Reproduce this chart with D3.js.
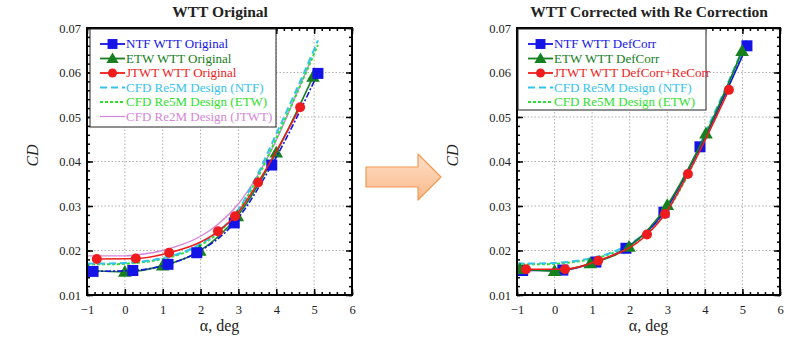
<!DOCTYPE html>
<html><head><meta charset="utf-8">
<script src="https://cdn.jsdelivr.net/npm/d3@7"></script>
<style>body{margin:0;background:#fff}svg{display:block}</style>
</head><body><svg id="c" width="791" height="338"></svg>
<script>
// ---------- data ----------
const xTicks = [-1, 0, 1, 2, 3, 4, 5, 6];
const yTicks = [0.01, 0.02, 0.03, 0.04, 0.05, 0.06, 0.07];

// Left panel: WTT Original
const ntfOrigAlpha = [-0.84, 0.21, 1.14, 1.9, 2.89, 3.88, 5.1];
const ntfOrigCD    = [0.0153, 0.0155, 0.0169, 0.0195, 0.0262, 0.0392, 0.0598];
const etwOrigAlpha = [-0.97, 0.0, 1.0, 1.98, 2.97, 4.0, 4.97];
const etwOrigCD    = [0.0155, 0.0152, 0.0166, 0.0199, 0.0277, 0.0420, 0.0590];
const jtwtOrigAlpha = [-0.74, 0.29, 1.17, 2.46, 2.91, 3.52, 4.63];
const jtwtOrigCD    = [0.0181, 0.0182, 0.0195, 0.0243, 0.0277, 0.0353, 0.0522];

// CFD design curves
const cfdAlpha   = [-1, -0.5, 0, 0.5, 1, 1.5, 2, 2.5, 3, 3.5, 4, 4.5, 5, 5.1];
const cfdNtf5M   = [0.0171, 0.0171, 0.0172, 0.0176, 0.0183, 0.0195, 0.0215, 0.0245, 0.0292, 0.0370, 0.0462, 0.0555, 0.0652, 0.0672];
const cfdEtw5M   = [0.0169, 0.0169, 0.0170, 0.0174, 0.0181, 0.0193, 0.0212, 0.0242, 0.0290, 0.0362, 0.0452, 0.0545, 0.0642, 0.0662];
const cfdAlpha2M = [-1, -0.5, 0, 0.5, 1, 1.5, 2, 2.5, 3, 3.5, 4, 4.5, 4.9];
const cfdJtwt2M  = [0.0188, 0.0188, 0.0188, 0.0192, 0.0200, 0.0213, 0.0232, 0.0262, 0.0305, 0.0368, 0.0448, 0.0545, 0.0625];

// Right panel: WTT Corrected with Re Correction
const ntfCorrAlpha = [-0.85, 0.22, 1.1, 1.9, 2.91, 3.87, 5.12];
const ntfCorrCD    = [0.0155, 0.0156, 0.0174, 0.0205, 0.0286, 0.0433, 0.0660];
const etwCorrAlpha = [-0.92, 0.0, 0.95, 1.98, 3.0, 4.03, 4.99];
const etwCorrCD    = [0.0158, 0.0154, 0.0171, 0.0208, 0.0302, 0.0463, 0.0648];
const jtwtCorrAlpha = [-0.76, 0.28, 1.16, 2.46, 2.94, 3.55, 4.64];
const jtwtCorrCD    = [0.0158, 0.0158, 0.0177, 0.0236, 0.0282, 0.0372, 0.0561];

const titles = ["WTT Original", "WTT Corrected with Re Correction"];
const leftLegend = ["NTF WTT Original", "ETW WTT Original", "JTWT WTT Original",
  "CFD Re5M Design (NTF)", "CFD Re5M Design (ETW)", "CFD Re2M Design (JTWT)"];
const rightLegend = ["NTF WTT DefCorr", "ETW WTT DefCorr", "JTWT WTT DefCorr+ReCorr",
  "CFD Re5M Design (NTF)", "CFD Re5M Design (ETW)"];

// ---------- styles ----------
const C = {blue:"#1414e6", green:"#16801e", red:"#ee1c1c", cyan:"#34c4ea", lgreen:"#2ee02e", pink:"#d487d8"};
const FONT = "'Liberation Serif', 'Times New Roman', serif";
const svg = d3.select("#c");

function zip(a, b){ return a.map((v,i)=>[v, b[i]]); }

function panel(cfg){
  const {x0, x1, y0, y1, id} = cfg;
  const x = d3.scaleLinear().domain([-1, 6]).range([x0, x1]);
  const y = d3.scaleLinear().domain([0.01, 0.07]).range([y1, y0]);
  const g = svg.append("g");

  g.append("clipPath").attr("id", id).append("rect")
    .attr("x", x0).attr("y", y0).attr("width", x1-x0).attr("height", y1-y0);

  // grid
  g.append("g").selectAll("line").data(xTicks.slice(1,-1)).join("line")
    .attr("x1", d=>x(d)).attr("x2", d=>x(d)).attr("y1", y0).attr("y2", y1)
    .attr("stroke", "#9a9a9a").attr("stroke-width", 0.8).attr("stroke-dasharray", "1.5,2");
  g.append("g").selectAll("line").data(yTicks.slice(1,-1)).join("line")
    .attr("y1", d=>y(d)).attr("y2", d=>y(d)).attr("x1", x0).attr("x2", x1)
    .attr("stroke", "#9a9a9a").attr("stroke-width", 0.8).attr("stroke-dasharray", "1.5,2");

  // axes (ticks inside)
  const ax = d3.axisBottom(x).tickValues(xTicks).tickFormat(d3.format("d")).tickSize(-6).tickPadding(10);
  const axMinor = d3.axisBottom(x).tickValues(d3.range(-1, 6.001, 0.2)).tickFormat("").tickSize(-3);
  const ay = d3.axisLeft(y).tickValues(yTicks).tickFormat(d3.format(".2f")).tickSize(-6).tickPadding(6);
  const ayMinor = d3.axisLeft(y).tickValues(d3.range(0.01, 0.0701, 0.002)).tickFormat("").tickSize(-3);
  function style(sel){
    sel.select(".domain").remove();
    sel.selectAll("line").attr("stroke", "#000").attr("stroke-width", 1.5);
    sel.selectAll("text").attr("font-family", FONT).attr("font-size", 12.5).attr("fill", "#222");
  }
  g.append("g").attr("transform", `translate(0,${y1})`).call(ax).call(style);
  g.append("g").attr("transform", `translate(0,${y1})`).call(axMinor).call(style);
  g.append("g").attr("transform", `translate(0,${y0})`).call(d3.axisTop(x).tickValues(xTicks).tickFormat("").tickSize(-6)).call(style);
  g.append("g").attr("transform", `translate(0,${y0})`).call(d3.axisTop(x).tickValues(d3.range(-1, 6.001, 0.2)).tickFormat("").tickSize(-3)).call(style);
  g.append("g").attr("transform", `translate(${x0},0)`).call(ay).call(style);
  g.append("g").attr("transform", `translate(${x0},0)`).call(ayMinor).call(style);
  g.append("g").attr("transform", `translate(${x1},0)`).call(d3.axisRight(y).tickValues(yTicks).tickFormat("").tickSize(-6)).call(style);
  g.append("g").attr("transform", `translate(${x1},0)`).call(d3.axisRight(y).tickValues(d3.range(0.01, 0.0701, 0.002)).tickFormat("").tickSize(-3)).call(style);

  // data
  const plot = g.append("g").attr("clip-path", `url(#${id})`);
  const smooth = d3.line().x(d=>x(d[0])).y(d=>y(d[1])).curve(d3.curveMonotoneX);
  cfg.curves.forEach(c=>{
    plot.append("path").attr("d", smooth(zip(c.a, c.v))).attr("fill","none")
      .attr("stroke", c.color).attr("stroke-width", c.w||1.6).attr("stroke-dasharray", c.dash||null);
  });
  cfg.series.forEach(s=>{
    const pts = zip(s.a, s.v);
    plot.append("path").attr("d", smooth(pts)).attr("fill","none")
      .attr("stroke", s.color).attr("stroke-width", 1.6).attr("stroke-dasharray", s.dash||null);
    pts.forEach(p=>drawMarker(plot, s.marker, x(p[0]), y(p[1]), s.color, 1));
  });

  // frame
  g.append("rect").attr("x", x0).attr("y", y0).attr("width", x1-x0).attr("height", y1-y0)
    .attr("fill", "none").attr("stroke", "#000").attr("stroke-width", 2);

  // legend
  const L = cfg.legend;
  g.append("rect").attr("x", L.x).attr("y", L.y).attr("width", L.w).attr("height", L.h)
    .attr("fill", "#fff").attr("stroke", "#222").attr("stroke-width", 1);
  L.items.forEach((it, i)=>{
    const yy = L.y + 15 + i*L.dy;
    g.append("line").attr("x1", L.x+10).attr("x2", L.x+35).attr("y1", yy).attr("y2", yy)
      .attr("stroke", it.color).attr("stroke-width", it.w||1.8).attr("stroke-dasharray", it.dash||null);
    if (it.marker) drawMarker(g, it.marker, L.x+22.5, yy, it.color, 0.9);
    g.append("text").attr("x", L.x+36).attr("y", yy+4).text(it.label)
      .attr("font-family", FONT).attr("font-size", 13).attr("fill", it.color);
  });

  // titles and labels
  g.append("text").attr("x", cfg.titleX).attr("y", 17).attr("text-anchor","middle")
    .attr("font-family", FONT).attr("font-weight","bold").attr("font-size", 15.5).attr("fill","#222").text(cfg.title);
  g.append("text").attr("transform", `translate(${cfg.ylabX},${(y0+y1)/2 - 6}) rotate(-90)`)
    .attr("text-anchor","middle").attr("font-family", FONT).attr("font-style","italic")
    .attr("font-size", 16).attr("fill","#222").text("CD");
  g.append("text").attr("x", (x0+x1)/2).attr("y", 331).attr("text-anchor","middle")
    .attr("font-family", FONT).attr("font-size", 16).attr("fill","#222").text("α, deg");
}

function drawMarker(sel, type, cx, cy, color, k){
  if (type === "square") {
    const s = 11*k;
    sel.append("rect").attr("x", cx-s/2).attr("y", cy-s/2).attr("width", s).attr("height", s).attr("fill", color);
  } else if (type === "triangle") {
    sel.append("path").attr("d", d3.symbol(d3.symbolTriangle, 80*k*k)()).attr("transform", `translate(${cx},${cy+1})`).attr("fill", color);
  } else {
    sel.append("circle").attr("cx", cx).attr("cy", cy).attr("r", 5*k).attr("fill", color);
  }
}

panel({
  id: "clipL", x0: 87, x1: 352, y0: 28, y1: 295, title: titles[0], titleX: 220, ylabX: 38,
  curves: [
    {a: cfdAlpha2M, v: cfdJtwt2M, color: C.pink, w: 1.4},
    {a: cfdAlpha, v: cfdEtw5M, color: C.lgreen, dash: "3,2", w: 2},
    {a: cfdAlpha, v: cfdNtf5M, color: C.cyan, dash: "7,4", w: 2},
  ],
  series: [
    {a: etwOrigAlpha, v: etwOrigCD, color: C.green, marker: "triangle"},
    {a: ntfOrigAlpha, v: ntfOrigCD, color: C.blue, marker: "square", dash: "6,2,2,2"},
    {a: jtwtOrigAlpha, v: jtwtOrigCD, color: C.red, marker: "circle"},
  ],
  legend: {x: 90, y: 29, w: 186, h: 98, dy: 14.5, items: [
    {label: leftLegend[0], color: C.blue, marker: "square"},
    {label: leftLegend[1], color: C.green, marker: "triangle"},
    {label: leftLegend[2], color: C.red, marker: "circle"},
    {label: leftLegend[3], color: C.cyan, dash: "7,4"},
    {label: leftLegend[4], color: C.lgreen, dash: "3,2"},
    {label: leftLegend[5], color: C.pink, w: 1.2},
  ]}
});

panel({
  id: "clipR", x0: 517, x1: 780, y0: 28, y1: 295, title: titles[1], titleX: 649, ylabX: 458,
  curves: [
    {a: cfdAlpha, v: cfdEtw5M, color: C.lgreen, dash: "3,2", w: 2},
    {a: cfdAlpha, v: cfdNtf5M, color: C.cyan, dash: "7,4", w: 2},
  ],
  series: [
    {a: ntfCorrAlpha, v: ntfCorrCD, color: C.blue, marker: "square"},
    {a: etwCorrAlpha, v: etwCorrCD, color: C.green, marker: "triangle"},
    {a: jtwtCorrAlpha, v: jtwtCorrCD, color: C.red, marker: "circle"},
  ],
  legend: {x: 518, y: 29, w: 188, h: 81, dy: 14.5, items: [
    {label: rightLegend[0], color: C.blue, marker: "square"},
    {label: rightLegend[1], color: C.green, marker: "triangle"},
    {label: rightLegend[2], color: C.red, marker: "circle"},
    {label: rightLegend[3], color: C.cyan, dash: "7,4"},
    {label: rightLegend[4], color: C.lgreen, dash: "3,2"},
  ]}
});

// arrow between the panels
const defs = svg.append("defs");
const grad = defs.append("linearGradient").attr("id","ag").attr("x1",0).attr("y1",0).attr("x2",0).attr("y2",1);
grad.append("stop").attr("offset","0%").attr("stop-color","#fde0c8");
grad.append("stop").attr("offset","100%").attr("stop-color","#f9b98a");
const arrowPts = [[366,167],[418,167],[418,154],[441,177],[418,200],[418,187],[366,187]];
svg.append("path").attr("d", d3.line()(arrowPts) + "Z")
  .attr("fill","url(#ag)").attr("stroke","#f19a55").attr("stroke-width",1.2).attr("stroke-linejoin","round");
</script></body></html>
